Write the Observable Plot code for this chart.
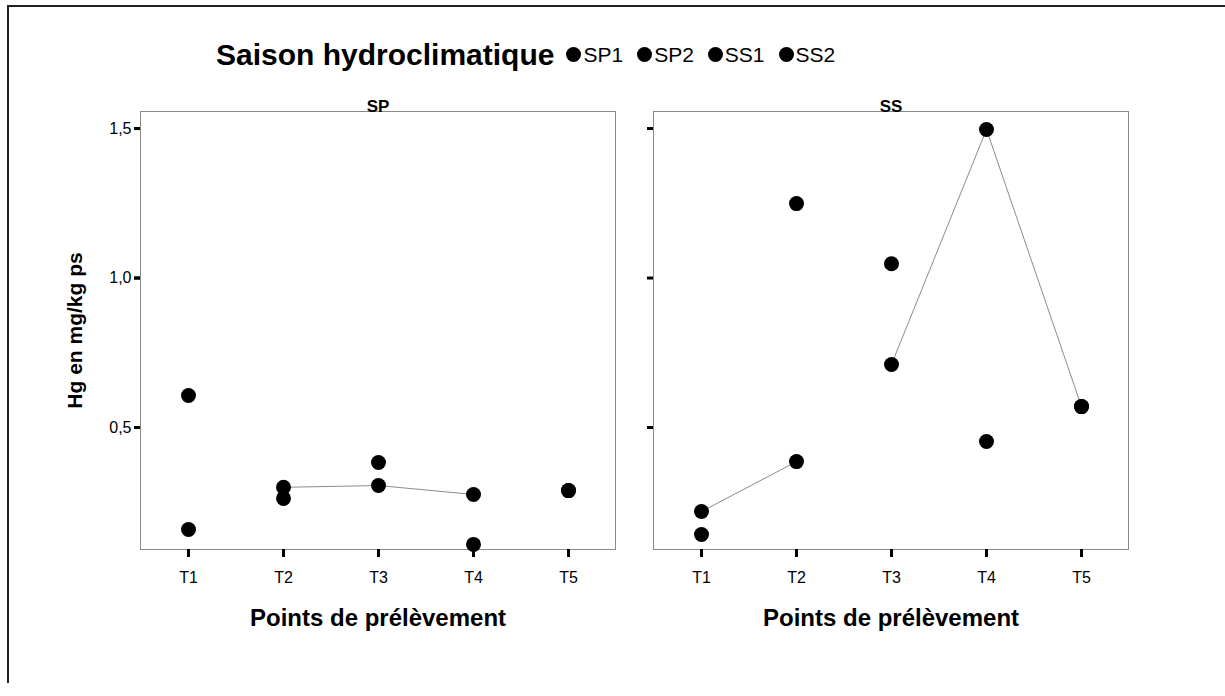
<!DOCTYPE html>
<html>
<head>
<meta charset="utf-8">
<script src="https://cdn.jsdelivr.net/npm/d3@7"></script>
<script src="https://cdn.jsdelivr.net/npm/@observablehq/plot@0.6"></script>
<style>
  html, body { margin: 0; padding: 0; background: #fff; }
  body { width: 1225px; height: 696px; position: relative; overflow: hidden; font-family: "Liberation Sans", Arial, sans-serif; }
  #border { position: absolute; left: 7px; top: 5px; width: 1225px; height: 676px; border-top: 2px solid #222; border-left: 2px solid #222; z-index: 10; pointer-events: none; }
  #legend { position: relative; height: 95px; display: flex; align-items: center; padding-left: 216px; box-sizing: border-box; padding-top: 14px; }
  #legend .title { font-weight: bold; font-size: 30px; margin-right: 12px; }
  #legend .item { font-size: 21px; margin-right: 14px; display: inline-flex; align-items: center; }
  #legend .dot { display: inline-block; width: 15px; height: 15px; border-radius: 50%; background: #000; margin-right: 2px; }
  #chart { position: relative; }
</style>
</head>
<body>
<div id="border"></div>
<div id="legend"></div>
<div id="chart"></div>
<script>
// ---- data ----
const points = ["T1", "T2", "T3", "T4", "T5"];
const panels = ["SP", "SS"];
const legendTitle = "Saison hydroclimatique";
const seriesNames = ["SP1", "SP2", "SS1", "SS2"];
const sp1 = [0.607, 0.263, 0.383, 0.109, 0.289];
const sp2 = [0.159, 0.300, 0.306, 0.276, 0.289];
const ss1 = [0.142, 1.249, 1.048, 0.453, 0.570];
const ss2 = [0.219, 0.386, 0.711, 1.497, 0.570];
const yTicks = [0.5, 1.0, 1.5];
const yLabel = "Hg en mg/kg ps";
const xLabel = "Points de prélèvement";
// visible connecting segments (series, first point, last point)
const links = [["SP2", "T2", "T4"], ["SS2", "T1", "T2"], ["SS2", "T3", "T5"]];

// ---- build tables ----
const seriesValues = {SP1: sp1, SP2: sp2, SS1: ss1, SS2: ss2};
const rows = [];
for (const s of seriesNames) {
  seriesValues[s].forEach((v, i) => rows.push({panel: s.slice(0, 2), series: s, point: points[i], value: v}));
}
const lineRows = [];
links.forEach(([s, a, b], k) => {
  const i0 = points.indexOf(a), i1 = points.indexOf(b);
  for (let i = i0; i <= i1; i++) lineRows.push({panel: s.slice(0, 2), seg: k, point: points[i], value: seriesValues[s][i]});
});

// ---- legend ----
const leg = document.getElementById("legend");
const t = document.createElement("span"); t.className = "title"; t.textContent = legendTitle; leg.appendChild(t);
seriesNames.forEach(s => {
  const it = document.createElement("span"); it.className = "item";
  const d = document.createElement("span"); d.className = "dot"; it.appendChild(d);
  it.appendChild(document.createTextNode(s));
  leg.appendChild(it);
});

const fmt = d => d.toFixed(1).replace(".", ",");

const chart = Plot.plot({
  width: 1225,
  height: 601,
  marginLeft: 140,
  marginRight: 97,
  marginTop: 16,
  marginBottom: 147,
  style: {fontFamily: "'Liberation Sans', Arial, sans-serif", background: "transparent", color: "#000"},
  fx: {domain: panels, paddingInner: 0.075, paddingOuter: 0, axis: null},
  x: {type: "point", domain: points, padding: 0.5, axis: null},
  y: {domain: [0.092, 1.557], axis: null},
  marks: [
    Plot.frame({stroke: "#8a8a8a", strokeWidth: 1}),
    Plot.axisY({ticks: yTicks, tickSize: 6, strokeWidth: 3, tickFormat: () => "", label: null, facetAnchor: null}),
    Plot.axisY({ticks: yTicks, tickSize: 6, strokeWidth: 3, tickPadding: 3, tickFormat: fmt, label: null, fontSize: 16}),
    Plot.axisX({tickSize: 8, strokeWidth: 3, tickPadding: 14, label: null, fontSize: 16}),
    Plot.line(lineRows, {fx: "panel", x: "point", y: "value", z: "seg", stroke: "#8c8c8c", strokeWidth: 1}),
    Plot.dot(rows, {fx: "panel", x: "point", y: "value", r: 7.5, fill: "#000"}),
    Plot.text(panels, {fx: d => d, text: d => d, frameAnchor: "top", dy: -12, fontWeight: "bold", fontSize: 17}),
    Plot.text(panels, {fx: d => d, text: () => xLabel, frameAnchor: "bottom", dy: 76, fontWeight: "bold", fontSize: 24}),
    Plot.text([yLabel], {fx: () => "SP", text: d => d, frameAnchor: "left", textAnchor: "middle", rotate: -90, dx: -65, fontWeight: "bold", fontSize: 21})
  ]
});
document.getElementById("chart").appendChild(chart);
</script>
</body>
</html>
